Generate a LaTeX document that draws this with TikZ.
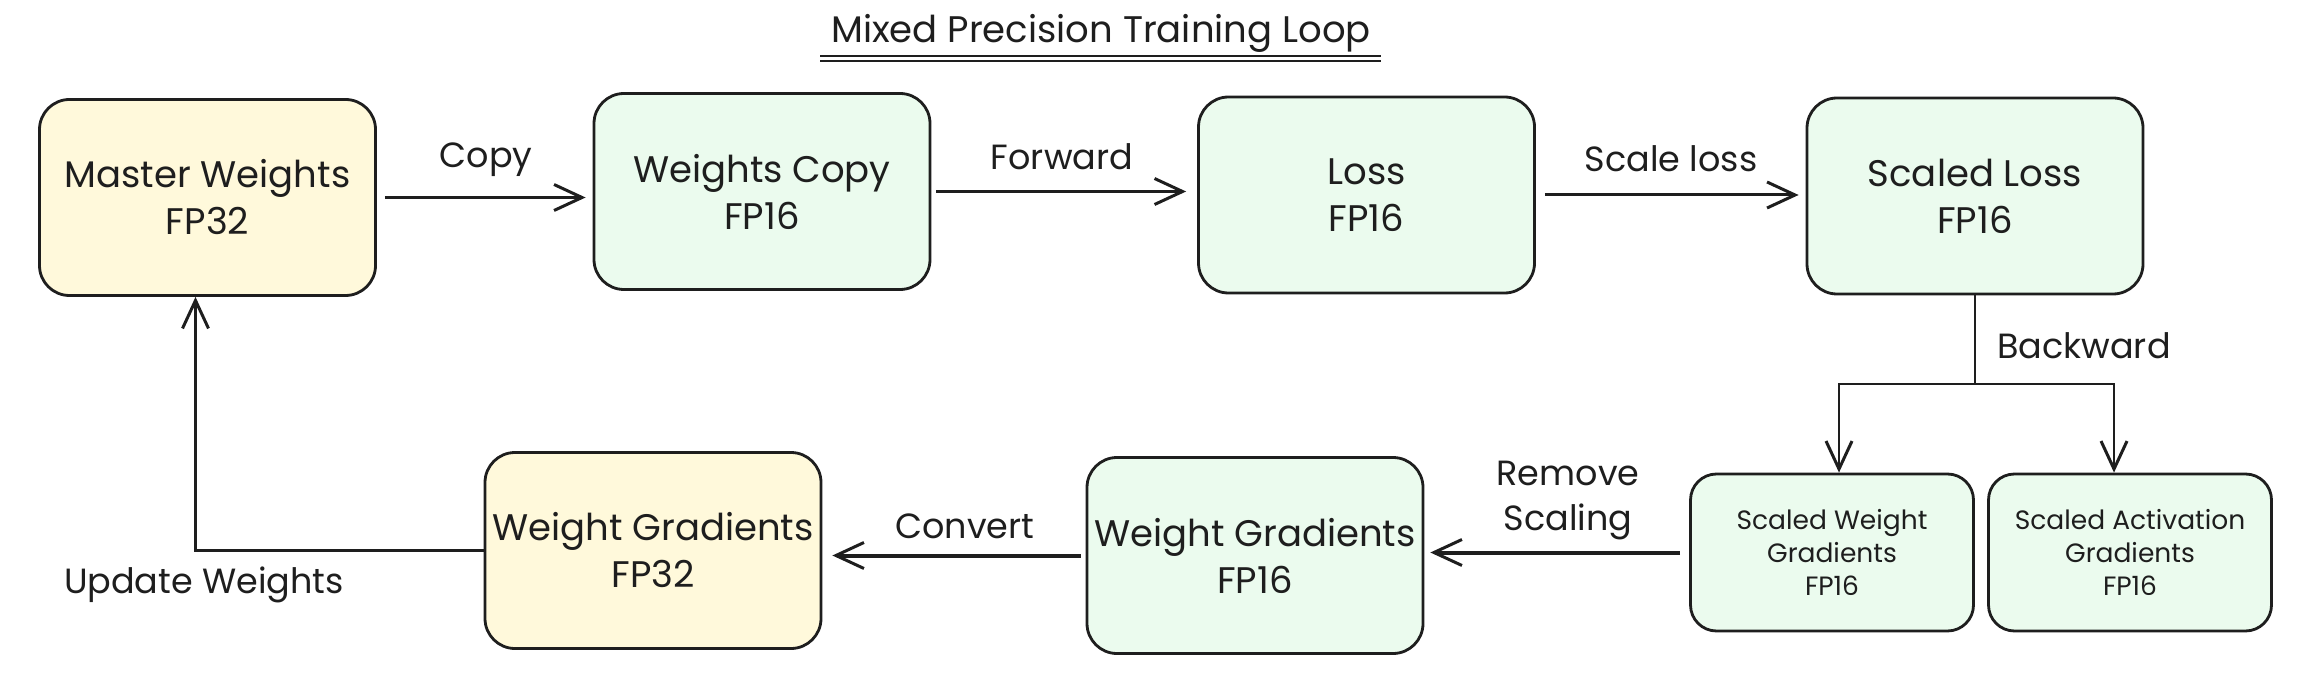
\documentclass[tikz,border=0pt]{standalone}
\usepackage{fontspec}
\setmainfont{Poppins}
\usetikzlibrary{arrows.meta}
\definecolor{ink}{HTML}{1E1E1E}
\definecolor{yel}{HTML}{FFF9DB}
\definecolor{grn}{HTML}{EBFBEE}
\begin{document}
\begin{tikzpicture}[x=1pt,y=-1pt,
  box/.style={draw=ink, line width=2.8pt, rounded corners=30pt, align=center, text=ink,
    font=\fontsize{37}{47}\selectfont, inner sep=0pt},
  ybox/.style={box, fill=yel, minimum width=336pt, minimum height=196pt},
  gbox/.style={box, fill=grn, minimum width=336pt, minimum height=196pt},
  sbox/.style={box, fill=grn, rounded corners=26pt, minimum width=283pt, minimum height=157pt,
    font=\fontsize{26.5}{33}\selectfont},
  arr/.style={draw=ink, line width=3pt, -{Straight Barb[length=28pt,width=26pt,line width=3pt]}},
  conn/.style={draw=ink, line width=2.6pt},
  lbl/.style={text=ink, font=\fontsize{35}{47}\selectfont, inner sep=0pt, anchor=base},
]
\useasboundingbox (0,0) rectangle (2300,676);
\fill[white] (0,0) rectangle (2300,676);

% title
\node[lbl, font=\fontsize{37}{47}\selectfont] (title) at (1101,43) {Mixed Precision Training Loop};
\draw[conn, line width=2.2pt] (820,56) -- (1381,56);
\draw[conn, line width=2.2pt] (820,61) -- (1381,61);

% boxes
\node[ybox] (mw) at (207.5,197.5) {Master Weights\\FP32};
\node[gbox] (wc) at (762,191.5) {Weights Copy\\FP16};
\node[gbox] (loss) at (1366.5,195) {Loss\\FP16};
\node[gbox] (sl) at (1975,196) {Scaled Loss\\FP16};
\node[sbox] (swg) at (1832,552.5) {Scaled Weight\\Gradients\\FP16};
\node[sbox] (sag) at (2130,552.5) {Scaled Activation\\Gradients\\FP16};
\node[gbox] (wg16) at (1255,555.5) {Weight Gradients\\FP16};
\node[ybox] (wg32) at (653,550.5) {Weight Gradients\\FP32};

% top row arrows
\draw[arr, shorten <=8pt, shorten >=7pt] (mw.east) -- (mw.east -| wc.west);
\draw[arr, shorten <=5pt, shorten >=11pt] (wc.east) -- (wc.east -| loss.west);
\draw[arr, shorten <=9pt, shorten >=7pt] (loss.east) -- (loss.east -| sl.west);

% backward branch
\coordinate (bk) at (1977,384);
\draw[conn] (sl.south) -- (sl.south |- bk);
\draw[arr, line width=2.6pt] (sl.south |- bk) -| ([xshift=7pt]swg.north);
\draw[arr, line width=2.6pt] (sl.south |- bk) -| ([xshift=-16pt]sag.north);

% bottom row arrows
\draw[arr, line width=4pt, shorten <=9pt, shorten >=6pt] (swg.west) -- (swg.west -| wg16.east);
\draw[arr, line width=4pt, shorten <=5pt, shorten >=10pt] (wg16.west) -- (wg16.west -| wg32.east);
\draw[arr, line width=2.4pt] (wg32.west) -| ([xshift=-12pt]mw.south);

% labels
\node[lbl] (lcopy) at (486,168) {Copy};
\node[lbl] (lfwd) at (1062,170) {Forward};
\node[lbl] (lscale) at (1671,172) {Scale loss};
\node[lbl, anchor=base west] (lback) at (1997,358) {Backward};
\node[lbl] (lrem1) at (1568,485) {Remove};
\node[lbl] (lrem2) at (1568,530) {Scaling};
\node[lbl] (lconv) at (965,538) {Convert};
\node[lbl] (lupd) at (204,593) {Update Weights};
\end{tikzpicture}
\end{document}
